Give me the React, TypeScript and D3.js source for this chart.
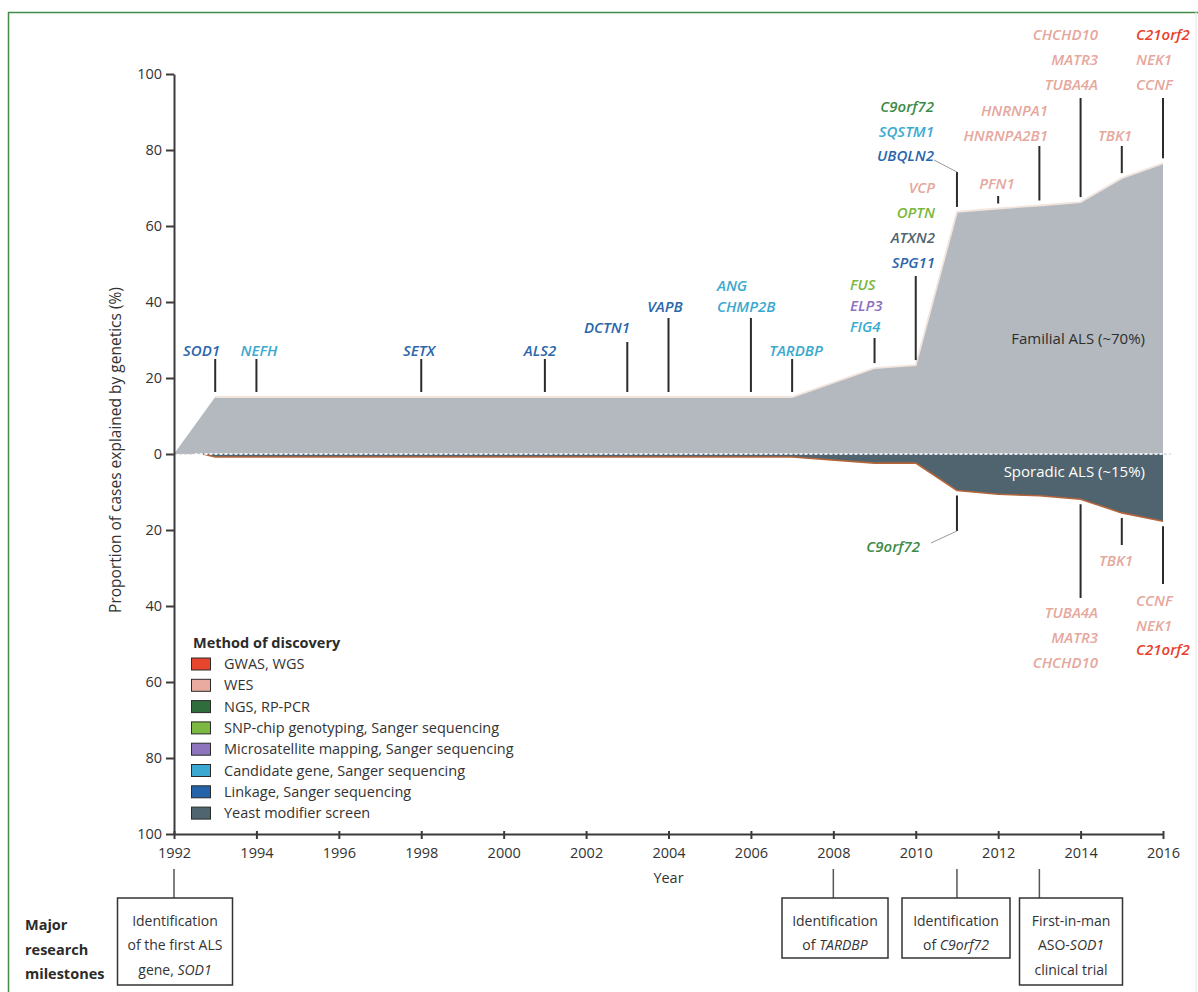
import { useEffect, useRef } from "react";
import * as d3 from "d3";

// familial (upper) and sporadic (lower) cumulative proportion explained by genetics
const familialYears = [1992, 1993, 2007, 2009, 2010, 2011, 2012, 2013, 2014, 2015, 2016];
const familialValues = [0, 15, 15, 22.6, 23.4, 63.7, 64.6, 65.4, 66.3, 72.6, 76.5];
const sporadicYears = [1992.7, 1993, 2007, 2009, 2010, 2011, 2012, 2013, 2014, 2015, 2016];
const sporadicValues = [0, 0.8, 0.8, 2.4, 2.4, 9.6, 10.6, 11.0, 11.9, 15.5, 17.7];

const yTicks = [100, 80, 60, 40, 20, 0, -20, -40, -60, -80, -100];
const xTicks = [1992, 1994, 1996, 1998, 2000, 2002, 2004, 2006, 2008, 2010, 2012, 2014, 2016];

const methodKeys = ["gwas", "wes", "ngs", "snp", "micro", "candidate", "linkage", "yeast"];
const methodLabels = [
  "GWAS, WGS",
  "WES",
  "NGS, RP-PCR",
  "SNP-chip genotyping, Sanger sequencing",
  "Microsatellite mapping, Sanger sequencing",
  "Candidate gene, Sanger sequencing",
  "Linkage, Sanger sequencing",
  "Yeast modifier screen",
];
const methodColors = ["#e8452f", "#e9aaa0", "#2f6e3c", "#7cb842", "#8e74bd", "#3aa8d0", "#2463a8", "#4f6670"];
const textColors = ["#e8402a", "#e6a79d", "#3d8b46", "#78b83a", "#8c6fbf", "#3aa9cf", "#2a66ab", "#4f6670"];

// genes discovered per year, [name, method]
const familialGenes: [number, [string, string][]][] = [
  [1993, [["SOD1", "linkage"]]],
  [1994, [["NEFH", "candidate"]]],
  [1998, [["SETX", "linkage"]]],
  [2001, [["ALS2", "linkage"]]],
  [2003, [["DCTN1", "linkage"]]],
  [2004, [["VAPB", "linkage"]]],
  [2006, [["ANG", "candidate"], ["CHMP2B", "candidate"]]],
  [2007, [["TARDBP", "candidate"]]],
  [2009, [["FUS", "snp"], ["ELP3", "micro"], ["FIG4", "candidate"]]],
  [2010, [["VCP", "wes"], ["OPTN", "snp"], ["ATXN2", "yeast"], ["SPG11", "linkage"]]],
  [2011, [["C9orf72", "ngs"], ["SQSTM1", "candidate"], ["UBQLN2", "linkage"]]],
  [2012, [["PFN1", "wes"]]],
  [2013, [["HNRNPA1", "wes"], ["HNRNPA2B1", "wes"]]],
  [2014, [["CHCHD10", "wes"], ["MATR3", "wes"], ["TUBA4A", "wes"]]],
  [2015, [["TBK1", "wes"]]],
  [2016, [["C21orf2", "gwas"], ["NEK1", "wes"], ["CCNF", "wes"]]],
];
const sporadicGenes: [number, [string, string][]][] = [
  [2011, [["C9orf72", "ngs"]]],
  [2014, [["TUBA4A", "wes"], ["MATR3", "wes"], ["CHCHD10", "wes"]]],
  [2015, [["TBK1", "wes"]]],
  [2016, [["CCNF", "wes"], ["NEK1", "wes"], ["C21orf2", "gwas"]]],
];

const milestoneYears = [1992, 2008, 2011, 2013];
const milestoneTexts = [
  ["Identification", "of the first ALS", "gene, SOD1"],
  ["Identification", "of TARDBP"],
  ["Identification", "of C9orf72"],
  ["First-in-man", "ASO-SOD1", "clinical trial"],
];

const FONT = "'Open Sans', 'Noto Sans', sans-serif";

export default function App() {
  const svgRef = useRef<SVGSVGElement | null>(null);

  const drawChart = () => {
    const svg = d3.select(svgRef.current);
    svg.selectAll("*").remove();

    const x = d3.scaleLinear().domain([1992, 2016]).range([174, 1163]);
    const y = d3.scaleLinear().domain([-100, 100]).range([834, 74]);
    const color = (m: string) => textColors[methodKeys.indexOf(m)];

    // frame
    svg.append("line").attr("x1", 8).attr("x2", 1198).attr("y1", 12.5).attr("y2", 12.5)
      .attr("stroke", "#3f8b47").attr("stroke-width", 1.5);
    svg.append("line").attr("x1", 8.5).attr("x2", 8.5).attr("y1", 12).attr("y2", 992)
      .attr("stroke", "#3f8b47").attr("stroke-width", 1.5);
    svg.append("line").attr("x1", 1196).attr("x2", 1196).attr("y1", 12).attr("y2", 992)
      .attr("stroke", "#e2e4e2").attr("stroke-width", 1);

    const fam = familialYears.map((yr, i) => [yr, familialValues[i]] as [number, number]);
    const spo = sporadicYears.map((yr, i) => [yr, -sporadicValues[i]] as [number, number]);

    const area = d3.area<[number, number]>()
      .x((d) => x(d[0]))
      .y0(y(0))
      .y1((d) => y(d[1]));
    const line = d3.line<[number, number]>().x((d) => x(d[0])).y((d) => y(d[1]));

    svg.append("path").attr("d", area(fam)).attr("fill", "#b3b9bf");
    svg.append("path").attr("d", line(fam.slice(1))).attr("fill", "none")
      .attr("stroke", "#f1e4dc").attr("stroke-width", 1.8);
    svg.append("path").attr("d", area(spo)).attr("fill", "#4f646e");
    svg.append("path").attr("d", line(spo)).attr("fill", "none")
      .attr("stroke", "#b4653b").attr("stroke-width", 1.6);

    // zero line
    svg.append("line").attr("x1", x(1992)).attr("x2", x(2016) + 8).attr("y1", y(0)).attr("y2", y(0))
      .attr("stroke", "#c4c8cc").attr("stroke-width", 1.2).attr("stroke-dasharray", "3,2");
    svg.append("line").attr("x1", x(1992.5)).attr("x2", x(2016)).attr("y1", y(0)).attr("y2", y(0))
      .attr("stroke", "#ffffff").attr("stroke-width", 1.3).attr("stroke-dasharray", "3,2");

    // axes
    const yAxis = svg.append("g").attr("transform", `translate(${x(1992)},0)`)
      .call(d3.axisLeft(y).tickValues(yTicks).tickFormat((d) => String(Math.abs(+d)))
        .tickSize(8).tickSizeOuter(0).tickPadding(4));
    const xAxis = svg.append("g").attr("transform", `translate(0,${y(-100)})`)
      .call(d3.axisBottom(x).tickValues(xTicks).tickFormat(d3.format("d"))
        .tickSize(5).tickSizeOuter(0).tickPadding(9));
    [yAxis, xAxis].forEach((ax) => {
      ax.select(".domain").attr("stroke", "#3a3a3a").attr("stroke-width", 2);
      ax.selectAll(".tick line").attr("stroke", "#3a3a3a").attr("stroke-width", 2);
      ax.selectAll(".tick text").attr("fill", "#333").style("font-size", "14.5px").style("font-family", FONT);
    });
    xAxis.selectAll(".tick line").attr("y1", -3);

    svg.append("text").attr("x", (x(1992) + x(2016)) / 2).attr("y", 883).attr("text-anchor", "middle")
      .attr("fill", "#333").style("font-size", "14.5px").style("font-family", FONT).text("Year");
    svg.append("text").attr("transform", `translate(121,450) rotate(-90)`).attr("text-anchor", "middle")
      .attr("fill", "#333").style("font-size", "15.5px").style("font-family", FONT)
      .text("Proportion of cases explained by genetics (%)");

    svg.append("text").attr("x", 1145).attr("y", y(29)).attr("text-anchor", "end")
      .attr("fill", "#2e2e2e").style("font-size", "15px").style("font-family", FONT)
      .text("Familial ALS (~70%)");
    svg.append("text").attr("x", 1145).attr("y", y(-6)).attr("text-anchor", "end")
      .attr("fill", "#ffffff").style("font-size", "15px").style("font-family", FONT)
      .text("Sporadic ALS (~15%)");

    // label layout per year: anchor, label x, first line centre, line step, leader end away from area
    const topLayout: Record<number, [string, number, number, number, number]> = {
      1993: ["end", 220, 351, 0, 359],
      1994: ["middle", 259, 351, 0, 359],
      1998: ["middle", 419, 351, 0, 359],
      2001: ["middle", 540, 351, 0, 359],
      2003: ["end", 630, 328, 0, 342],
      2004: ["middle", 665, 307, 0, 318],
      2006: ["start", 717, 286, 21, 318],
      2007: ["middle", 796, 351, 0, 359],
      2009: ["start", 850, 285, 21, 338],
      2010: ["end", 935, 188, 25, 276],
      2011: ["end", 934, 107, 24.5, 172],
      2012: ["middle", 997, 184, 0, 196],
      2013: ["end", 1048, 111, 25, 146],
      2014: ["end", 1098, 35, 25, 98],
      2015: ["middle", 1115, 136, 0, 146],
      2016: ["start", 1136, 35, 25, 98],
    };
    const bottomLayout: Record<number, [string, number, number, number, number]> = {
      2011: ["end", 920, 547, 0, 531],
      2014: ["end", 1098, 613, 25, 598],
      2015: ["middle", 1116, 561, 0, 545],
      2016: ["start", 1136, 601, 24.5, 584],
    };

    const famAt = (yr: number) => familialValues[familialYears.indexOf(yr)] ?? 15;
    const spoAt = (yr: number) => sporadicValues[sporadicYears.indexOf(yr)] ?? 0.8;

    const drawGroup = (
      yr: number,
      genes: [string, string][],
      lay: [string, number, number, number, number],
      edge: number,
      dir: number,
    ) => {
      const [anchor, lx, ly, step, lineEnd] = lay;
      svg.append("line").attr("x1", x(yr)).attr("x2", x(yr))
        .attr("y1", lineEnd).attr("y2", edge - dir * 5)
        .attr("stroke", "#2b2b2b").attr("stroke-width", 2);
      genes.forEach(([name, m], i) => {
        svg.append("text").attr("x", lx).attr("y", ly + i * step).attr("dy", "0.35em")
          .attr("text-anchor", anchor).attr("fill", color(m))
          .style("font-size", "15px").style("font-weight", 600).style("font-style", "italic")
          .style("font-family", FONT).text(name);
      });
    };

    familialGenes.forEach(([yr, genes]) => drawGroup(yr, genes, topLayout[yr], y(famAt(yr)), 1));
    sporadicGenes.forEach(([yr, genes]) => drawGroup(yr, genes, bottomLayout[yr], y(-spoAt(yr)), -1));

    // slanted leaders for C9orf72 group
    svg.append("line").attr("x1", 934).attr("y1", 160).attr("x2", x(2011)).attr("y2", 172)
      .attr("stroke", "#9a9a9a").attr("stroke-width", 1);
    svg.append("line").attr("x1", x(2011)).attr("y1", 531).attr("x2", 931).attr("y2", 543)
      .attr("stroke", "#9a9a9a").attr("stroke-width", 1);

    // legend
    const leg = svg.append("g").style("font-family", FONT);
    leg.append("text").attr("x", 193).attr("y", 643).attr("dy", "0.35em").attr("fill", "#2b2b2b")
      .style("font-size", "14.5px").style("font-weight", 700).text("Method of discovery");
    methodLabels.forEach((lab, i) => {
      const cy = 664 + i * 21.3;
      leg.append("rect").attr("x", 191.5).attr("y", cy - 6).attr("width", 19).attr("height", 12)
        .attr("fill", methodColors[i]).attr("stroke", "#2b2b2b").attr("stroke-width", 1);
      leg.append("text").attr("x", 224).attr("y", cy).attr("dy", "0.35em").attr("fill", "#333")
        .style("font-size", "14.5px").text(lab);
    });

    // milestones
    const ms = svg.append("g").style("font-family", FONT);
    ["Major", "research", "milestones"].forEach((t, i) => {
      ms.append("text").attr("x", 25).attr("y", 925 + i * 24.5).attr("dy", "0.35em").attr("fill", "#2b2b2b")
        .style("font-size", "14.5px").style("font-weight", 700).text(t);
    });
    const boxW = [115, 106, 108, 103];
    const boxCx = [175, 835, 956, 1071];
    milestoneYears.forEach((yr, i) => {
      const lines = milestoneTexts[i];
      const h = lines.length === 3 ? 87 : 60;
      ms.append("line").attr("x1", x(yr)).attr("x2", x(yr)).attr("y1", 869).attr("y2", 898)
        .attr("stroke", "#555").attr("stroke-width", 1.5);
      ms.append("rect").attr("x", boxCx[i] - boxW[i] / 2).attr("y", 898).attr("width", boxW[i]).attr("height", h)
        .attr("fill", "#fff").attr("stroke", "#333").attr("stroke-width", 1.5);
      lines.forEach((t, j) => {
        const tx = ms.append("text").attr("x", boxCx[i]).attr("y", 921 + j * 24.5).attr("dy", "0.35em")
          .attr("text-anchor", "middle").attr("fill", "#333").style("font-size", "14px");
        const m = t.match(/^(.*?)(SOD1|TARDBP|C9orf72)(.*)$/);
        if (m) {
          tx.append("tspan").text(m[1]);
          tx.append("tspan").style("font-style", "italic").text(m[2]);
          tx.append("tspan").text(m[3]);
        } else {
          tx.text(t);
        }
      });
    });
  };

  useEffect(() => {
    drawChart();
    // eslint-disable-next-line react-hooks/exhaustive-deps
  }, []);

  return (
    <svg
      ref={svgRef}
      width={1198}
      height={992}
      style={{ position: "absolute", left: 0, top: 0, background: "#fff" }}
    ></svg>
  );
}
